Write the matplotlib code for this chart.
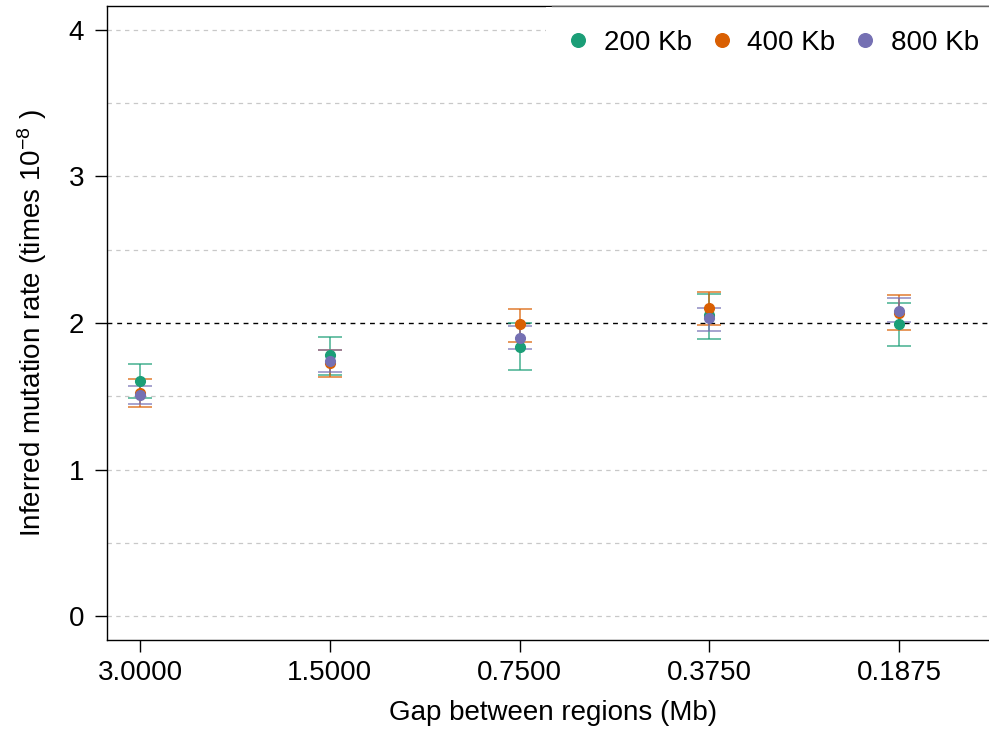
import numpy as np
import matplotlib
matplotlib.use("Agg")
import matplotlib.pyplot as plt
from matplotlib.lines import Line2D

plt.rcParams['font.family'] = ['Liberation Sans', 'DejaVu Sans']
plt.rcParams['mathtext.fontset'] = 'custom'
plt.rcParams['mathtext.rm'] = 'Liberation Sans'
plt.rcParams['mathtext.it'] = 'Liberation Sans'

gap_labels = ["3.0000", "1.5000", "0.7500", "0.3750", "0.1875"]
region_sizes = ["200 Kb", "400 Kb", "800 Kb"]
colours = ["#1B9E77", "#D95F02", "#7570B3"]

# inferred rate (x1e-8) with lower / upper interval bounds, per region size
rate_200 = [1.606, 1.780, 1.838, 2.055, 1.991]
low_200 = [1.490, 1.643, 1.681, 1.889, 1.845]
high_200 = [1.722, 1.904, 1.998, 2.200, 2.136]

rate_400 = [1.520, 1.725, 1.991, 2.100, 2.070]
low_400 = [1.429, 1.629, 1.873, 1.984, 1.954]
high_400 = [1.616, 1.818, 2.096, 2.209, 2.189]

rate_800 = [1.508, 1.743, 1.900, 2.032, 2.084]
low_800 = [1.447, 1.668, 1.823, 1.948, 2.009]
high_800 = [1.568, 1.813, 1.980, 2.102, 2.173]

true_rate = 2.0

series = [
    (rate_200, low_200, high_200),
    (rate_400, low_400, high_400),
    (rate_800, low_800, high_800),
]

fig = plt.figure(figsize=(9.89, 7.36), dpi=100)
W, H = 989, 736
ax = fig.add_axes([107 / W, 1 - 640 / H, (1000 - 107) / W, (640 - 6) / H])

xs = np.arange(1, len(gap_labels) + 1)

for yv in np.arange(0, 4.01, 0.5):
    if yv == true_rate:
        continue
    ax.axhline(yv, color="#C8C8C8", lw=0.9, ls=(0, (3.5, 3.5)), zorder=0)
ax.axhline(true_rate, color="black", lw=1.0, ls=(0, (3.5, 3.5)), zorder=1)

handles = []
for (rate, low, high), col, lab in zip(series, colours, region_sizes):
    rate = np.array(rate)
    yerr = [rate - np.array(low), np.array(high) - rate]
    ax.errorbar(xs, rate, yerr=yerr, fmt="none", ecolor=col, elinewidth=1.2,
                capsize=8.4, capthick=1.2, alpha=0.75, zorder=2)
    h, = ax.plot(xs, rate, "o", color=col, markersize=7, label=lab, zorder=3)
    handles.append(h)

ax.set_xlim(0.826, 0.826 + 893 / 189.75)
ax.set_ylim(-0.1638, 4.1638)
ax.set_xticks(xs)
ax.set_xticklabels(gap_labels)
ax.set_yticks([0, 1, 2, 3, 4])
ax.tick_params(axis="both", labelsize=20, direction="out", length=8.6, width=1.0)
ax.tick_params(axis="x", pad=6)
ax.tick_params(axis="y", pad=8)
for s in ax.spines.values():
    s.set_linewidth(1.0)

ax.set_xlabel("Gap between regions (Mb)", fontsize=20, labelpad=10)
ax.set_ylabel(r"Inferred mutation rate (times $10^{-8}$ )", fontsize=20, labelpad=14)

leg = fig.legend(handles=handles, labels=region_sizes, loc="upper left",
                 bbox_to_anchor=(546 / W, 1 - 6.5 / H), ncol=3, fontsize=20,
                 frameon=True, fancybox=False, framealpha=1, facecolor="white",
                 edgecolor="none", handlelength=0.6, handletextpad=0.62,
                 columnspacing=0.78, borderpad=0.85, borderaxespad=0,
                 markerscale=1.4)

# thin grey edge along the top of the legend box
fig.add_artist(Line2D([552 / W, 1], [1 - 6 / H, 1 - 6 / H], color="#666666",
                      lw=1.0, transform=fig.transFigure, zorder=10))

fig.savefig("out.png", dpi=100)
